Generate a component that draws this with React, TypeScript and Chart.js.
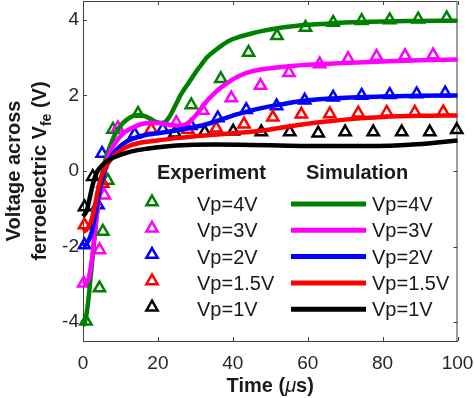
import React, { useEffect, useRef } from 'react';
import { Chart, registerables } from 'chart.js';

Chart.register(...registerables);

const FONT = 'Arial, "Liberation Sans", Helvetica, sans-serif';

// axis ticks
const xTickValues = [0, 20, 40, 60, 80, 100];
const yTickValues = [-4, -2, 0, 2, 4];

// series
const seriesLabels = ['Vp=4V', 'Vp=3V', 'Vp=2V', 'Vp=1.5V', 'Vp=1V'];
const seriesColors = ['#008000', '#ff00ff', '#0000ff', '#ff0000', '#000000'];

// Experiment (markers) — time in µs, voltage in V
const exp4T = [0.8, 4.4, 5.3, 6.6, 8.0, 14.7, 28.9, 36.8, 44.2, 51.8, 59.4, 66.8, 74.4, 81.9, 89.5, 97.1];
const exp4V = [-3.98, -3.1, -1.6, -0.25, 1.1, 1.52, 1.75, 2.44, 3.14, 3.58, 3.8, 3.93, 3.98, 4.0, 4.02, 4.05];
const exp3T = [0.2, 4.4, 5.7, 9.3, 24.9, 32.0, 39.6, 47.4, 55.0, 63.2, 70.8, 78.4, 86.0, 93.5];
const exp3V = [-2.97, -2.09, -0.64, 1.14, 1.28, 1.6, 1.93, 2.26, 2.6, 2.83, 2.97, 3.03, 3.05, 3.07];
const exp2T = [0.4, 4.0, 5.1, 13.8, 21.3, 28.8, 36.0, 43.6, 51.7, 59.2, 66.8, 74.4, 81.9, 89.1, 96.7];
const exp2V = [-1.96, -0.9, 0.46, 0.97, 1.1, 1.2, 1.4, 1.62, 1.72, 1.87, 1.95, 2.0, 2.02, 2.04, 2.06];
const exp15T = [0.4, 5.3, 18.2, 28.0, 35.6, 43.0, 50.7, 58.3, 65.9, 73.5, 81.1, 88.6, 96.2];
const exp15V = [-1.43, -0.33, 1.1, 1.1, 1.13, 1.24, 1.42, 1.5, 1.51, 1.53, 1.55, 1.55, 1.56];
const exp1T = [0.4, 2.6, 24.5, 32.5, 40.1, 47.6, 55.2, 62.8, 70.0, 77.5, 85.1, 92.6, 99.8];
const exp1V = [-0.95, -0.15, 1.0, 1.03, 1.05, 1.03, 1.03, 1.0, 1.03, 1.03, 1.03, 1.03, 1.09];

// Simulation (lines)
const sim4T = [0, 0.5, 1, 1.5, 2, 2.5, 3, 3.5, 4, 4.5, 5, 6, 7, 8, 9, 10.5, 12, 13.5, 15, 16.5, 18, 19.5, 21, 22, 23, 24, 25, 26, 27, 28, 29, 30, 31.5, 33, 35, 37, 39, 42, 45, 48, 52, 56, 60, 65, 70, 80, 90, 100];
const sim4V = [-4.1, -4.0, -3.75, -3.35, -2.85, -2.35, -1.85, -1.35, -0.9, -0.5, -0.15, 0.3, 0.6, 0.85, 1.05, 1.25, 1.38, 1.46, 1.48, 1.45, 1.38, 1.3, 1.27, 1.3, 1.42, 1.6, 1.8, 2.0, 2.16, 2.3, 2.45, 2.6, 2.8, 3.0, 3.17, 3.32, 3.45, 3.56, 3.64, 3.71, 3.78, 3.83, 3.87, 3.9, 3.93, 3.96, 3.97, 3.98];
const sim3T = [0, 1, 1.5, 2, 2.5, 3, 3.5, 4, 4.5, 5, 6, 7, 8, 9, 10.5, 12, 14, 16, 18, 20, 22, 24, 26, 27.5, 29, 30.5, 32, 33.5, 35, 37, 39, 41, 43.5, 46, 50, 55, 60, 70, 80, 90, 100];
const sim3V = [-3.0, -2.95, -2.85, -2.6, -2.25, -1.75, -1.3, -0.9, -0.55, -0.25, 0.15, 0.45, 0.65, 0.8, 0.97, 1.08, 1.18, 1.25, 1.28, 1.27, 1.24, 1.21, 1.2, 1.24, 1.35, 1.52, 1.72, 1.9, 2.05, 2.22, 2.36, 2.48, 2.59, 2.66, 2.72, 2.77, 2.81, 2.86, 2.9, 2.93, 2.95];
const sim2T = [0, 1, 2, 2.5, 3, 3.5, 4, 4.5, 5, 6, 7, 8, 9, 10.5, 12, 14, 17, 20, 24, 28, 32, 35, 38, 41, 44, 47, 51, 55, 60, 65, 70, 80, 90, 100];
const sim2V = [-2.0, -1.92, -1.72, -1.55, -1.3, -1.05, -0.77, -0.5, -0.28, 0.05, 0.28, 0.45, 0.57, 0.7, 0.8, 0.88, 0.96, 1.0, 1.06, 1.13, 1.21, 1.3, 1.4, 1.5, 1.58, 1.65, 1.73, 1.8, 1.87, 1.91, 1.94, 1.97, 1.99, 2.0];
const sim15T = [0, 1, 2, 2.5, 3, 3.5, 4, 4.5, 5, 6, 7, 8, 10, 12.5, 16, 20, 25, 30, 35, 40, 45, 50, 55, 60, 65, 70, 75, 80, 90, 100];
const sim15V = [-1.6, -1.55, -1.38, -1.22, -1.0, -0.75, -0.5, -0.3, -0.12, 0.1, 0.25, 0.37, 0.54, 0.67, 0.76, 0.81, 0.87, 0.92, 0.96, 1.0, 1.04, 1.1, 1.18, 1.25, 1.31, 1.36, 1.4, 1.43, 1.46, 1.47];
const sim1T = [0, 1, 1.5, 2, 2.5, 3, 3.5, 4, 5, 6, 8, 10, 13, 17, 22, 28, 35, 45, 55, 65, 75, 82, 88, 94, 100];
const sim1V = [-1.2, -1.05, -0.85, -0.62, -0.4, -0.22, -0.08, 0.02, 0.14, 0.23, 0.35, 0.43, 0.52, 0.59, 0.65, 0.69, 0.7, 0.69, 0.67, 0.66, 0.66, 0.67, 0.7, 0.75, 0.81];

const expT = [exp4T, exp3T, exp2T, exp15T, exp1T];
const expV = [exp4V, exp3V, exp2V, exp15V, exp1V];
const simT = [sim4T, sim3T, sim2T, sim15T, sim1T];
const simV = [sim4V, sim3V, sim2V, sim15V, sim1V];

const toXY = (t: number[], v: number[]) => t.map((x, i) => ({ x, y: v[i] }));

function drawTriangle(ctx: CanvasRenderingContext2D, x: number, y: number, r: number) {
  ctx.beginPath();
  ctx.moveTo(x, y - r);
  ctx.lineTo(x + r * Math.sin(Math.PI * 2 / 3), y - r * Math.cos(Math.PI * 2 / 3));
  ctx.lineTo(x + r * Math.sin(Math.PI * 4 / 3), y - r * Math.cos(Math.PI * 4 / 3));
  ctx.closePath();
  ctx.stroke();
}

const zeroPad = (s: any) => {
  s.paddingTop = 0;
  s.paddingBottom = 0;
  s.paddingLeft = 0;
  s.paddingRight = 0;
};

const decorPlugin = {
  id: 'decor',
  beforeDatasetsDraw(chart: any) {
    const { ctx, chartArea } = chart;
    const { left, right, top, bottom } = chartArea;
    const xs = chart.scales.x;
    const ys = chart.scales.y;
    ctx.save();
    ctx.strokeStyle = '#404040';
    ctx.lineWidth = 1;
    ctx.beginPath();
    ctx.moveTo(left + 0.5, top + 0.5);
    ctx.lineTo(right - 0.5, top + 0.5);
    ctx.lineTo(right - 0.5, bottom);
    ctx.stroke();
    const tl = 4;
    ctx.beginPath();
    xTickValues.forEach((v) => {
      const px = Math.round(xs.getPixelForValue(v)) + 0.5;
      ctx.moveTo(px, bottom);
      ctx.lineTo(px, bottom - tl);
      ctx.moveTo(px, top);
      ctx.lineTo(px, top + tl);
    });
    yTickValues.forEach((v) => {
      const py = Math.round(ys.getPixelForValue(v)) + 0.5;
      ctx.moveTo(left, py);
      ctx.lineTo(left + tl, py);
      ctx.moveTo(right, py);
      ctx.lineTo(right - tl, py);
    });
    ctx.stroke();
    ctx.restore();
  },
  afterDraw(chart: any) {
    const { ctx, chartArea } = chart;
    ctx.save();
    ctx.fillStyle = '#1a1a1a';
    // X title: Time (μs)
    const cx = (chartArea.left + chartArea.right) / 2;
    const p1 = 'Time (';
    const p2 = 'μ';
    const p3 = 's)';
    ctx.font = `bold 20px ${FONT}`;
    const w1 = ctx.measureText(p1).width;
    const w3 = ctx.measureText(p3).width;
    ctx.font = `italic 20px ${FONT}`;
    const w2 = ctx.measureText(p2).width;
    let sx = cx - (w1 + w2 + w3) / 2;
    const by = 392;
    ctx.textBaseline = 'alphabetic';
    ctx.textAlign = 'left';
    ctx.font = `bold 20px ${FONT}`;
    ctx.fillText(p1, sx, by);
    sx += w1;
    ctx.font = `italic 20px ${FONT}`;
    ctx.fillText(p2, sx, by);
    sx += w2;
    ctx.font = `bold 20px ${FONT}`;
    ctx.fillText(p3, sx, by);

    // Y title (two lines, rotated)
    const cy = (chartArea.top + chartArea.bottom) / 2;
    ctx.save();
    ctx.translate(0, cy);
    ctx.rotate(-Math.PI / 2);
    ctx.font = `bold 20px ${FONT}`;
    ctx.textAlign = 'center';
    ctx.fillText('Voltage across', 0, 20);
    const a = 'ferroelectric V';
    const b = 'fe';
    const c = ' (V)';
    ctx.font = `bold 20px ${FONT}`;
    const wa = ctx.measureText(a).width;
    const wc = ctx.measureText(c).width;
    ctx.font = `bold 14px ${FONT}`;
    const wb = ctx.measureText(b).width;
    let ty = -(wa + wb + wc) / 2;
    ctx.textAlign = 'left';
    ctx.font = `bold 20px ${FONT}`;
    ctx.fillText(a, ty, 46);
    ty += wa;
    ctx.font = `bold 14px ${FONT}`;
    ctx.fillText(b, ty, 51);
    ty += wb;
    ctx.font = `bold 20px ${FONT}`;
    ctx.fillText(c, ty, 46);
    ctx.restore();

    // Legend
    ctx.textAlign = 'left';
    ctx.textBaseline = 'alphabetic';
    ctx.font = `bold 20px ${FONT}`;
    ctx.fillStyle = '#1a1a1a';
    ctx.fillText('Experiment', 157, 179);
    ctx.fillText('Simulation', 306, 179);
    ctx.font = `20px ${FONT}`;
    seriesLabels.forEach((lab, i) => {
      const ry = 202 + i * 26.3;
      ctx.strokeStyle = seriesColors[i];
      ctx.lineWidth = 2.5;
      drawTriangle(ctx, 152, ry, 6.5);
      ctx.fillStyle = '#1a1a1a';
      ctx.fillText(lab, 197, ry + 9);
      ctx.strokeStyle = seriesColors[i];
      ctx.lineWidth = 5;
      ctx.beginPath();
      ctx.moveTo(291, ry + 2);
      ctx.lineTo(366, ry + 2);
      ctx.stroke();
      ctx.fillText(lab, 372, ry + 9);
    });
    ctx.restore();
  },
};

export default function App() {
  const canvasRef = useRef<HTMLCanvasElement | null>(null);

  useEffect(() => {
    document.body.style.margin = '0';
    const canvas = canvasRef.current;
    if (!canvas) return;

    const lineSets: any[] = [];
    const markerSets: any[] = [];
    // index 0 is drawn on top; 1V series on top
    for (let i = seriesLabels.length - 1; i >= 0; i--) {
      lineSets.push({
        label: 'Simulation ' + seriesLabels[i],
        data: toXY(simT[i], simV[i]),
        showLine: true,
        borderColor: seriesColors[i],
        borderWidth: 4.5,
        pointRadius: 0,
        cubicInterpolationMode: 'monotone',
        fill: false,
        clip: false,
      });
      markerSets.push({
        label: 'Experiment ' + seriesLabels[i],
        data: toXY(expT[i], expV[i]),
        showLine: false,
        pointStyle: 'triangle',
        pointRadius: 6.5,
        pointBorderWidth: 2.5,
        pointBorderColor: seriesColors[i],
        pointBackgroundColor: 'rgba(0,0,0,0)',
        clip: false,
      });
    }

    const chart = new Chart(canvas, {
      type: 'scatter',
      data: { datasets: [...lineSets, ...markerSets] },
      options: {
        responsive: false,
        animation: false,
        devicePixelRatio: 1,
        layout: { autoPadding: false, padding: { top: 1, right: 16.5, left: 0, bottom: 0 } },
        plugins: { legend: { display: false }, tooltip: { enabled: false } },
        scales: {
          x: {
            type: 'linear',
            min: 0,
            max: 100,
            afterBuildTicks: (s: any) => { s.ticks = xTickValues.map((value) => ({ value })); },
            afterFit: (s: any) => { s.height = 57; zeroPad(s); },
            grid: { display: false, drawTicks: false },
            border: { display: true, color: '#404040', width: 1 },
            ticks: { font: { family: FONT, size: 19 }, color: '#262626', padding: 11, maxRotation: 0 },
          },
          y: {
            type: 'linear',
            min: -4.5,
            max: 4.5,
            afterBuildTicks: (s: any) => { s.ticks = yTickValues.map((value) => ({ value })); },
            afterFit: (s: any) => { s.width = 83; zeroPad(s); },
            grid: { display: false, drawTicks: false },
            border: { display: true, color: '#404040', width: 1 },
            ticks: { font: { family: FONT, size: 19 }, color: '#262626', padding: 4 },
          },
        },
      },
      plugins: [decorPlugin],
    } as any);

    return () => chart.destroy();
  }, []);

  return (
    <div style={{ width: 474, height: 398, background: '#fff' }}>
      <canvas ref={canvasRef} width={474} height={398} style={{ display: 'block', width: 474, height: 398 }} />
    </div>
  );
}
